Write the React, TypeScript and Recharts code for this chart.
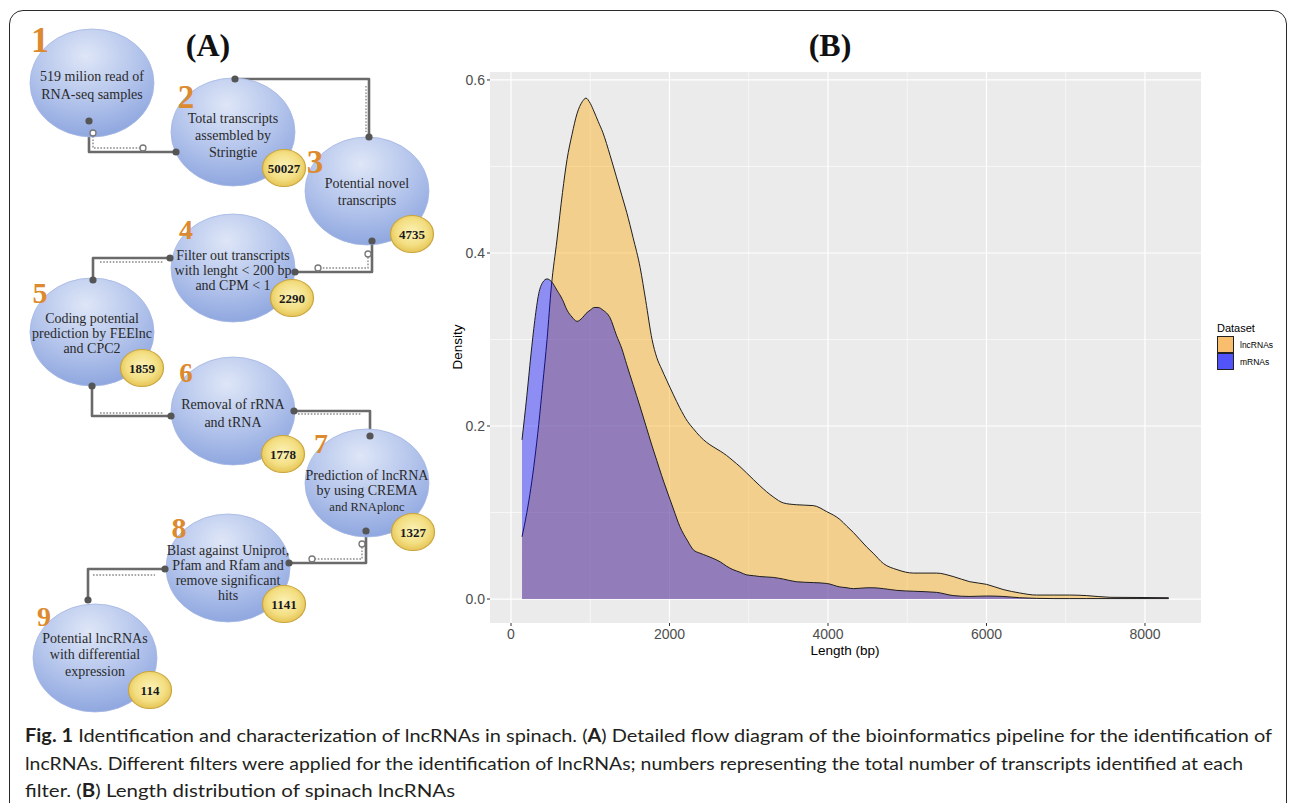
import React from 'react';
import { ComposedChart, Area, Line, Scatter, XAxis, YAxis, CartesianGrid } from 'recharts';

// ---------------- Panel B data (density of transcript length) ----------------
const lengthBp = [139, 200, 250, 300, 350, 400, 455, 510, 580, 650, 707, 770, 833, 900, 946, 1000, 1050, 1100, 1160, 1250, 1330, 1400, 1460, 1540, 1630, 1700, 1780, 1840, 1900, 1964, 2050, 2130, 2230, 2300, 2385, 2470, 2550, 2640, 2720, 2800, 2890, 2970, 3060, 3140, 3310, 3440, 3600, 3815, 3985, 4150, 4240, 4320, 4490, 4570, 4700, 4870, 5080, 5370, 5580, 5790, 6000, 6210, 6420, 6630, 6850, 7050, 7260, 7560, 7900, 8300];
const lncRNAs = [0.072, 0.100, 0.128, 0.162, 0.202, 0.248, 0.300, 0.362, 0.415, 0.470, 0.508, 0.537, 0.561, 0.575, 0.579, 0.573, 0.563, 0.552, 0.539, 0.513, 0.488, 0.466, 0.447, 0.418, 0.383, 0.345, 0.300, 0.279, 0.266, 0.253, 0.236, 0.221, 0.205, 0.197, 0.188, 0.181, 0.176, 0.171, 0.166, 0.160, 0.153, 0.146, 0.138, 0.131, 0.118, 0.111, 0.109, 0.108, 0.101, 0.092, 0.084, 0.077, 0.060, 0.053, 0.041, 0.034, 0.030, 0.030, 0.026, 0.020, 0.017, 0.011, 0.007, 0.0046, 0.0046, 0.0046, 0.004, 0.002, 0.0018, 0.0015];
const mRNAs = [0.184, 0.235, 0.281, 0.322, 0.353, 0.366, 0.370, 0.367, 0.357, 0.346, 0.334, 0.326, 0.321, 0.325, 0.330, 0.334, 0.337, 0.337, 0.334, 0.325, 0.305, 0.289, 0.271, 0.248, 0.222, 0.201, 0.177, 0.160, 0.143, 0.126, 0.104, 0.084, 0.067, 0.057, 0.053, 0.050, 0.047, 0.043, 0.038, 0.034, 0.031, 0.028, 0.027, 0.026, 0.025, 0.023, 0.020, 0.019, 0.018, 0.014, 0.013, 0.012, 0.013, 0.013, 0.012, 0.010, 0.009, 0.0077, 0.004, 0.003, 0.0035, 0.003, 0.0015, 0.0008, 0.0005, 0.0005, 0.0005, 0.0005, 0.0005, 0.0005];
const seriesNames = ['lncRNAs', 'mRNAs'];
const xTicks = [0, 2000, 4000, 6000, 8000];
const yTicks = [0, 0.2, 0.4, 0.6];
const xMinor = [1000, 3000, 5000, 7000];
const yMinor = [0.1, 0.3, 0.5];

// ---------------- Panel A content (pipeline steps) ----------------
const stepTexts = [
  ['519 milion read of', 'RNA-seq samples'],
  ['Total transcripts', 'assembled by', 'Stringtie'],
  ['Potential novel', 'transcripts'],
  ['Filter out transcripts', 'with lenght < 200 bp', 'and CPM < 1'],
  ['Coding potential', 'prediction by FEElnc', 'and CPC2'],
  ['Removal of rRNA', 'and tRNA'],
  ['Prediction of lncRNA', 'by using CREMA', 'and RNAplonc'],
  ['Blast against Uniprot,', 'Pfam and Rfam and', 'remove significant', 'hits'],
  ['Potential lncRNAs', 'with differential', 'expression'],
];
const stepCounts = ['', '50027', '4735', '2290', '1859', '1778', '1327', '1141', '114'];

// Panel A diagram layout (diagram units)
const nodeX = [92, 233, 367, 233, 92, 233, 367, 228, 95];
const nodeY = [83, 132, 191, 268, 332, 411, 483, 568, 658];
const nodeTextDy = [2, 3, 0, 2, 1, 2, 7, 4, -4];
const nodeLineH = [18, 17, 17, 15, 15, 18, 15.5, 15, 16.5];
const badgeX = [0, 284, 412, 292, 142, 283, 413, 284, 150];
const badgeY = [0, 168, 234, 298, 368, 454, 532, 604, 690];
const stepNumX = [40, 186, 315, 186, 40, 186, 321, 179, 44];
const stepNumY = [40, 97, 162, 230, 293, 373, 444, 528, 617];
const stepNumSize = [36, 33, 33, 28, 30, 27, 28, 30, 28];
const solidLinks = [
  [[89, 121], [89, 152], [176, 152]],
  [[235, 79], [369, 79], [369, 137]],
  [[372, 241], [372, 272], [295, 272]],
  [[170, 258], [93, 258], [93, 280]],
  [[92, 386], [92, 416], [171, 416]],
  [[294, 411], [370, 411], [370, 436]],
  [[366, 531], [366, 563], [289, 563]],
  [[165, 569], [88, 569], [88, 600]],
];
const dottedLinks = [
  [[93, 133], [93, 148], [143, 148]],
  [[366, 86], [366, 132]],
  [[368, 254], [368, 268], [318, 268]],
  [[100, 262], [163, 262]],
  [[100, 413], [163, 413]],
  [[298, 414], [362, 414]],
  [[362, 544], [362, 559], [312, 559]],
  [[93, 575], [155, 575]],
];
const dottedWithRings = [0, 2, 6];

const SANS = '"Liberation Sans", Arial, Helvetica, sans-serif';
const SERIF = '"Liberation Serif", "Times New Roman", serif';

const densityData = lengthBp.map((x, i) => ({ x, lnc: lncRNAs[i], m: mRNAs[i] }));
const nodeData = nodeX.map((x, k) => ({ x, y: nodeY[k], k }));
const badgeData = stepCounts.map((c, k) => ({ x: badgeX[k], y: badgeY[k], k })).filter((d) => stepCounts[d.k] !== '');
const stepNumData = stepNumX.map((x, k) => ({ x, y: stepNumY[k], k }));
const toPts = (link: number[][]) => link.map(([x, y]) => ({ x, y }));
const solidEnds = solidLinks.flatMap((l) => [l[0], l[l.length - 1]]).map(([x, y]) => ({ x, y }));
const ringEnds = dottedWithRings.flatMap((i) => [dottedLinks[i][0], dottedLinks[i][dottedLinks[i].length - 1]]).map(([x, y]) => ({ x, y }));

function NodeShape(props: any) {
  const { cx, cy, payload } = props;
  const k = payload.k;
  const lines = stepTexts[k];
  const lh = nodeLineH[k];
  const start = cy + nodeTextDy[k] - ((lines.length - 1) * lh) / 2;
  return (
    <g>
      <defs>
        <radialGradient id={`nodeGrad${k}`} cx="45%" cy="25%" r="80%">
          <stop offset="0%" stopColor="#DEE6F7" />
          <stop offset="55%" stopColor="#B2C3EB" />
          <stop offset="100%" stopColor="#8AA3DE" />
        </radialGradient>
      </defs>
      <ellipse cx={cx} cy={cy} rx={62} ry={54} fill={`url(#nodeGrad${k})`} stroke="#A4B6E2" strokeWidth={0.8} />
      <text textAnchor="middle" fontFamily={SERIF} fontSize={14} fill="#2A2A2A">
        {lines.map((t, j) => (
          <tspan key={j} x={cx} y={start + j * lh + 5} fontSize={k === 6 && j === 2 ? 12.5 : 14}>
            {t}
          </tspan>
        ))}
      </text>
    </g>
  );
}

function BadgeShape(props: any) {
  const { cx, cy, payload } = props;
  const k = payload.k;
  return (
    <g>
      <defs>
        <radialGradient id={`badgeGrad${k}`} cx="50%" cy="45%" r="60%">
          <stop offset="0%" stopColor="#FBF2B8" />
          <stop offset="60%" stopColor="#F3DE82" />
          <stop offset="100%" stopColor="#E2BE4A" />
        </radialGradient>
      </defs>
      <ellipse cx={cx} cy={cy} rx={21.5} ry={18.5} fill={`url(#badgeGrad${k})`} stroke="#C9A53C" strokeWidth={1.2} />
      <text x={cx} y={cy + 4.5} textAnchor="middle" fontFamily={SERIF} fontWeight="bold" fontSize={13} fill="#1A1A1A">
        {stepCounts[k]}
      </text>
    </g>
  );
}

function StepNumShape(props: any) {
  const { cx, cy, payload } = props;
  const k = payload.k;
  const fs = stepNumSize[k];
  return (
    <text x={cx} y={cy + fs * 0.33} textAnchor="middle" fontFamily={SERIF} fontWeight="bold" fontSize={fs} fill="#DC8A2F">
      {String(k + 1)}
    </text>
  );
}

const DotShape = (props: any) => <circle cx={props.cx} cy={props.cy} r={3.6} fill="#555" />;
const RingShape = (props: any) => <circle cx={props.cx} cy={props.cy} r={3} fill="#fff" stroke="#777" strokeWidth={1.3} />;

function PanelA() {
  return (
    <ComposedChart width={440} height={720} margin={{ top: 0, right: 0, bottom: 0, left: 0 }}>
      <XAxis dataKey="x" type="number" domain={[0, 440]} hide allowDataOverflow />
      <YAxis dataKey="y" type="number" domain={[0, 720]} hide reversed allowDataOverflow />
      {dottedLinks.map((l, i) => (
        <Line key={`d${i}`} data={toPts(l)} dataKey="y" type="linear" stroke="#8A8A8A" strokeWidth={1.4} strokeDasharray="1.6 1.6" dot={false} activeDot={false} isAnimationActive={false} />
      ))}
      {solidLinks.map((l, i) => (
        <Line key={`s${i}`} data={toPts(l)} dataKey="y" type="linear" stroke="#6A6A6A" strokeWidth={2.6} strokeLinejoin="round" dot={false} activeDot={false} isAnimationActive={false} />
      ))}
      <Scatter data={nodeData} dataKey="y" shape={NodeShape} isAnimationActive={false} />
      <Scatter data={badgeData} dataKey="y" shape={BadgeShape} isAnimationActive={false} />
      <Scatter data={stepNumData} dataKey="y" shape={StepNumShape} isAnimationActive={false} />
      <Scatter data={solidEnds} dataKey="y" shape={DotShape} isAnimationActive={false} />
      <Scatter data={ringEnds} dataKey="y" shape={RingShape} isAnimationActive={false} />
    </ComposedChart>
  );
}

function PanelB() {
  return (
    <ComposedChart width={850} height={650} data={densityData} margin={{ top: 42, right: 89, left: 0, bottom: 0 }}>
      <CartesianGrid fill="#EBEBEB" stroke="#FFFFFF" strokeWidth={0.6} verticalValues={xMinor} horizontalValues={yMinor} />
      <CartesianGrid stroke="#FFFFFF" strokeWidth={1.2} verticalValues={xTicks} horizontalValues={yTicks} />
      <XAxis
        dataKey="x"
        type="number"
        domain={[-265, 8707]}
        ticks={xTicks}
        interval={0}
        allowDataOverflow
        height={57}
        axisLine={false}
        tickSize={3}
        tickMargin={3}
        tickLine={{ stroke: '#333333' }}
        tick={{ fill: '#4D4D4D', fontSize: 14, fontFamily: SANS }}
      />
      <YAxis
        type="number"
        domain={[-0.0277, 0.6092]}
        ticks={yTicks}
        interval={0}
        allowDataOverflow
        width={50}
        axisLine={false}
        tickSize={3}
        tickMargin={2}
        tickLine={{ stroke: '#333333' }}
        tick={{ fill: '#4D4D4D', fontSize: 14, fontFamily: SANS }}
        tickFormatter={(v: number) => v.toFixed(1)}
      />
      <Area type="monotone" dataKey="lnc" name={seriesNames[0]} baseValue={0} fill="#FFA500" fillOpacity={0.4} stroke="#1E1E1E" strokeWidth={1} isAnimationActive={false} />
      <Area type="monotone" dataKey="m" name={seriesNames[1]} baseValue={0} fill="#0000FF" fillOpacity={0.4} stroke="#1E1E1E" strokeWidth={1} isAnimationActive={false} />
    </ComposedChart>
  );
}

export default function App() {
  const abs = (s: React.CSSProperties): React.CSSProperties => ({ position: 'absolute', ...s });
  return (
    <div style={{ position: 'absolute', left: 0, top: 0, width: 1290, height: 803, background: '#fff', overflow: 'hidden' }}>
      <div style={abs({ left: 9, top: 10, width: 1278, height: 900, border: '1.6px solid #2A2A2A', borderRadius: 14, boxSizing: 'border-box' })} />
      <div style={abs({ left: 0, top: 0 })}>
        <PanelA />
      </div>
      <div style={abs({ left: 440, top: 30 })}>
        <PanelB />
      </div>
      <div style={abs({ left: 208, top: 45, transform: 'translate(-50%,-50%)', fontFamily: SERIF, fontWeight: 'bold', fontSize: 32, color: '#111', whiteSpace: 'nowrap' })}>(A)</div>
      <div style={abs({ left: 830, top: 45, transform: 'translate(-50%,-50%)', fontFamily: SERIF, fontWeight: 'bold', fontSize: 32, color: '#111', whiteSpace: 'nowrap' })}>(B)</div>
      <div style={abs({ left: 457, top: 347, transform: 'translate(-50%,-50%) rotate(-90deg)', fontFamily: SANS, fontSize: 13.5, color: '#000', whiteSpace: 'nowrap' })}>Density</div>
      <div style={abs({ left: 845, top: 650, transform: 'translate(-50%,-50%)', fontFamily: SANS, fontSize: 13.5, color: '#000', whiteSpace: 'nowrap' })}>Length (bp)</div>
      <div style={abs({ left: 1217, top: 320, fontFamily: SANS, color: '#000' })}>
        <div style={{ fontSize: 11, lineHeight: '16px' }}>Dataset</div>
        {seriesNames.map((n, i) => (
          <div key={n} style={{ display: 'flex', alignItems: 'center', height: 17 }}>
            <div style={{ width: 17, height: 17, boxSizing: 'border-box', border: '1px solid #222', background: i === 0 ? '#F9BE6D' : '#5353FA' }} />
            <span style={{ fontSize: 8.5, marginLeft: 6 }}>{n}</span>
          </div>
        ))}
      </div>
      <svg width={1290} height={803} style={abs({ left: 0, top: 0, pointerEvents: 'none' })}>
        <g fontFamily='Lato, "Open Sans", sans-serif' fontSize={18} fill="#231F20">
          <text x={25} y={742} textLength={1247} lengthAdjust="spacingAndGlyphs">
            <tspan fontWeight="bold">Fig. 1</tspan> Identification and characterization of lncRNAs in spinach. (<tspan fontWeight="bold">A</tspan>) Detailed flow diagram of the bioinformatics pipeline for the identification of
          </text>
          <text x={25} y={769.5} textLength={1218} lengthAdjust="spacingAndGlyphs">
            lncRNAs. Different filters were applied for the identification of lncRNAs; numbers representing the total number of transcripts identified at each
          </text>
          <text x={25} y={797} textLength={430} lengthAdjust="spacingAndGlyphs">
            filter. (<tspan fontWeight="bold">B</tspan>) Length distribution of spinach lncRNAs
          </text>
        </g>
      </svg>
    </div>
  );
}
